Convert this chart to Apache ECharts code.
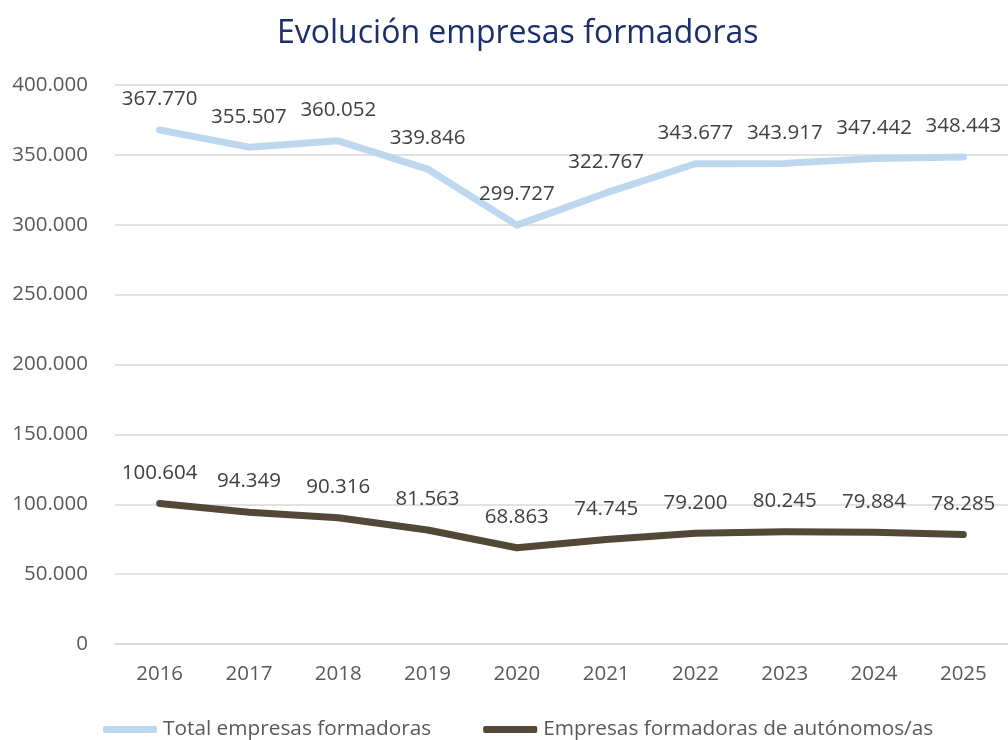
<!DOCTYPE html>
<html>
<head>
<meta charset="utf-8">
<script src="https://cdn.jsdelivr.net/npm/echarts@6/dist/echarts.min.js"></script>
<style>html,body{margin:0;padding:0;background:#fff}#c{width:1008px;height:740px}</style>
</head>
<body>
<div id="c"></div>
<script>
const years = ['2016','2017','2018','2019','2020','2021','2022','2023','2024','2025'];
const totalEmpresas = [367770, 355507, 360052, 339846, 299727, 322767, 343677, 343917, 347442, 348443];
const autonomos = [100604, 94349, 90316, 81563, 68863, 74745, 79200, 80245, 79884, 78285];
const seriesNames = ['Total empresas formadoras', 'Empresas formadoras de autónomos/as'];
const titleText = 'Evolución empresas formadoras';

const FONT = 'Open Sans';
function fmt(v){ return String(v).replace(/\B(?=(\d{3})+(?!\d))/g, '.'); }

const chart = echarts.init(document.getElementById('c'), null, {renderer:'canvas'});
chart.setOption({
  backgroundColor:'#ffffff',
  animation:false,
  title:{text:titleText,left:272,top:13,textStyle:{fontFamily:FONT,fontSize:32,fontWeight:'normal',color:'#1b2f6a'}},
  grid:{left:115,top:85,width:895,height:559,containLabel:false},
  xAxis:{type:'category',data:years,boundaryGap:true,
    axisLine:{show:true,lineStyle:{color:'#d9d9d9',width:1.5}},axisTick:{show:false},
    axisLabel:{color:'#595959',fontFamily:FONT,fontSize:20.5,margin:20}},
  yAxis:{type:'value',min:0,max:400000,interval:50000,
    axisLine:{show:false},axisTick:{show:false},
    splitLine:{lineStyle:{color:'#d9d9d9',width:1.5}},
    axisLabel:{color:'#595959',fontFamily:FONT,fontSize:20.5,margin:27,formatter:fmt}},
  legend:{top:714,left:98,itemWidth:54,itemHeight:7,itemGap:52,icon:'roundRect',
    textStyle:{color:'#595959',fontFamily:FONT,fontSize:20.8,padding:[0,0,0,1]},
    data:seriesNames},
  series:[
    {name:seriesNames[0],type:'line',data:totalEmpresas,symbol:'circle',symbolSize:0,showSymbol:true,
     lineStyle:{color:'#bdd7ee',width:7,cap:'round',join:'round'},itemStyle:{color:'#bdd7ee'},
     label:{show:true,position:'top',distance:20,color:'#404040',fontFamily:FONT,fontSize:20.5,formatter:p=>fmt(p.value)}},
    {name:seriesNames[1],type:'line',data:autonomos,symbol:'circle',symbolSize:0,showSymbol:true,
     lineStyle:{color:'#534737',width:7,cap:'round',join:'round'},itemStyle:{color:'#534737'},
     label:{show:true,position:'top',distance:20,color:'#404040',fontFamily:FONT,fontSize:20.5,formatter:p=>fmt(p.value)}}
  ]
});
</script>
</body>
</html>
